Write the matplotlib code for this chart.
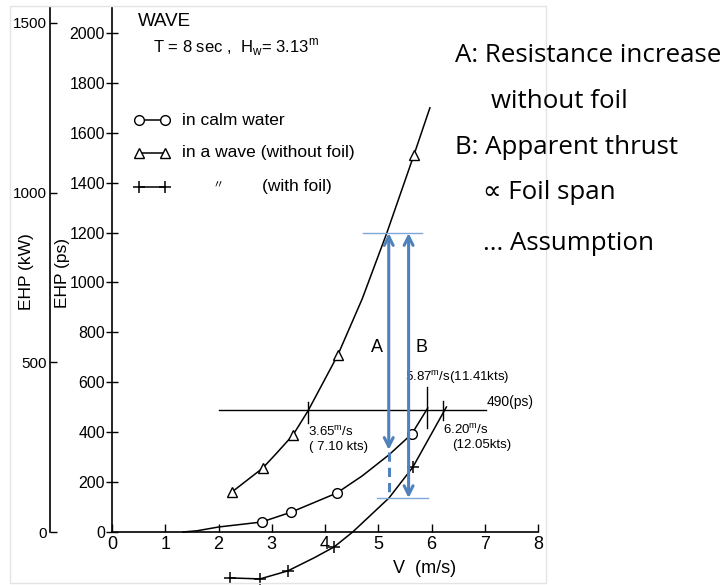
import matplotlib
matplotlib.use("Agg")
import matplotlib.pyplot as plt
from matplotlib.patches import Rectangle

plt.rcParams['font.family'] = ['Liberation Sans', 'DejaVu Sans']
plt.rcParams['mathtext.fontset'] = 'custom'
plt.rcParams['mathtext.rm'] = 'Liberation Sans'

# values: speed V (m/s) vs EHP (ps)
v_calm = [1.33, 1.6, 2.0, 2.81, 3.37, 4.22, 4.7, 5.2, 5.63, 5.93]
ehp_calm = [0, 5, 20, 40, 80, 156, 225, 309, 393, 497]
calm_marks = [3, 4, 5, 8]

v_wave = [2.25, 2.83, 3.1, 3.40, 3.68, 4.24, 4.7, 5.16, 5.67, 5.97]
ehp_wave = [160, 256, 318, 389, 485, 709, 935, 1198, 1511, 1700]
wave_marks = [0, 1, 3, 5, 8]

v_foil = [2.21, 2.78, 3.30, 3.8, 4.17, 4.52, 5.2, 5.65, 6.28]
ehp_foil = [-184, -188, -156, -103, -60, 0, 136, 260, 501]
foil_marks = [0, 1, 2, 4, 7]

ps_ticks = [0, 200, 400, 600, 800, 1000, 1200, 1400, 1600, 1800, 2000]
kw_ticks = [0, 500, 1000, 1500]
v_ticks = [0, 1, 2, 3, 4, 5, 6, 7, 8]

ehp_limit = 490          # horizontal line (ps)
v_wave_cross = 3.68      # 3.65 m/s
v_calm_cross = 5.91      # 5.87 m/s
v_foil_cross = 6.21      # 6.20 m/s

v_A, v_B = 5.197, 5.57
ehp_top, ehp_calm_A, ehp_bottom = 1198, 329, 136

PS_PER_KW = 1.36
blue = '#4F81BD'

W, H = 726, 585
fig = plt.figure(figsize=(W / 100, H / 100), dpi=100)

# faint frame of the scanned image
fig.patches.append(Rectangle((10 / W, 2 / H), 536 / W, 577 / H, transform=fig.transFigure,
                             fill=False, edgecolor='#e4e4e4', lw=1))

rect = [112 / W, 53 / H, 426 / W, 525 / H]
ax = fig.add_axes(rect)
ax.patch.set_alpha(0)
ax.set_xlim(0, 8)
ax.set_ylim(0, 2104)
for s in ['top', 'right']:
    ax.spines[s].set_visible(False)
for s in ['left', 'bottom']:
    ax.spines[s].set_linewidth(1.2)
ax.set_xticks(v_ticks)
ax.set_yticks(ps_ticks)
ax.tick_params(axis='y', direction='inout', length=8, width=1, pad=1, labelsize=11.5)
ax.tick_params(axis='x', direction='in', length=6, width=1, pad=3, labelsize=13)

# second (kW) axis further left
ax2 = fig.add_axes(rect)
ax2.patch.set_alpha(0)
ax2.set_ylim(0, 2104 / PS_PER_KW)
ax2.set_xticks([])
for s in ['top', 'right', 'bottom']:
    ax2.spines[s].set_visible(False)
ax2.spines['left'].set_position(('axes', (50 - 112) / 426))
ax2.spines['left'].set_linewidth(1.2)
ax2.set_yticks(kw_ticks)
ax2.tick_params(axis='y', direction='in', length=5, width=1, pad=2, labelsize=11)

fig.text(27 / W, 1 - 272 / H, 'EHP (kW)', rotation=90, ha='center', va='center', fontsize=12.5)
fig.text(63 / W, 1 - 273 / H, 'EHP (ps)', rotation=90, ha='center', va='center', fontsize=12.5)
ax.text(5.87, -145, 'V  (m/s)', ha='center', va='center', fontsize=13)

# curves
ax.plot(v_calm, ehp_calm, color='black', lw=1.1, clip_on=False)
ax.plot([v_calm[i] for i in calm_marks], [ehp_calm[i] for i in calm_marks], 'o', ms=7,
        mfc='white', mec='black', mew=1, clip_on=False)
ax.plot(v_wave, ehp_wave, color='black', lw=1.1, clip_on=False)
ax.plot([v_wave[i] for i in wave_marks], [ehp_wave[i] for i in wave_marks], '^', ms=7,
        mfc='white', mec='black', mew=1, clip_on=False)
ax.plot(v_foil, ehp_foil, color='black', lw=1.1, clip_on=False)
ax.plot([v_foil[i] for i in foil_marks], [ehp_foil[i] for i in foil_marks], '+', ms=8,
        color='black', mew=1.1, clip_on=False)

# 490 ps line and crossing marks
ax.plot([2.0, 7.03], [ehp_limit, ehp_limit], color='black', lw=1)
ax.text(7.03, ehp_limit + 2, '490(ps)', ha='left', va='bottom', fontsize=10)
ax.plot([v_wave_cross] * 2, [437, 521], color='black', lw=1)
ax.plot([v_calm_cross] * 2, [417, 581], color='black', lw=1)
ax.plot([v_foil_cross] * 2, [449, 525], color='black', lw=1)
ax.text(3.68, 400, r'3.65$^{\mathrm{m}}$/s', fontsize=9.5, va='center')
ax.text(3.70, 340, '( 7.10 kts)', fontsize=9.5, va='center')
ax.text(5.50, 620, r'5.87$^{\mathrm{m}}$/s(11.41kts)', fontsize=9.5, va='center')
ax.text(6.21, 408, r'6.20$^{\mathrm{m}}$/s', fontsize=9.5, va='center')
ax.text(6.38, 348, '(12.05kts)', fontsize=9.5, va='center')

# legend block
ax.text(0.488, 2044, 'WAVE', fontsize=13.5, va='center')
ax.text(0.77, 1944, r'T = 8 sec ,  H$_{\mathrm{w}}$= 3.13$^{\mathrm{m}}$', fontsize=12, va='center')
leg_x = [0.507, 0.994]
ax.plot(leg_x, [1651, 1651], color='black', lw=1.1, marker='o', ms=7, mfc='white', mec='black')
ax.plot(leg_x, [1519, 1519], color='black', lw=1.1, marker='^', ms=7, mfc='white', mec='black')
ax.plot(leg_x, [1383, 1383], color='black', lw=1.1, marker='+', ms=8, mew=1.1)
ax.text(1.313, 1651, 'in calm water', fontsize=12.5, va='center')
ax.text(1.313, 1519, 'in a wave (without foil)', fontsize=12.5, va='center')
ax.text(1.895, 1390, '\u3003', fontsize=8, va='center', family=['Noto Sans CJK JP', 'DejaVu Sans'])
ax.text(2.814, 1383, '(with foil)', fontsize=12.5, va='center')

# blue annotation arrows
ax.plot([4.71, 5.82], [ehp_top, ehp_top], color='#7FA7D9', lw=1)
ax.plot([4.97, 5.93], [ehp_bottom, ehp_bottom], color='#7FA7D9', lw=1)
arrow = dict(arrowstyle='<->', color=blue, lw=2.2, mutation_scale=16, shrinkA=0, shrinkB=0)
ax.annotate('', xy=(v_A, ehp_top), xytext=(v_A, ehp_calm_A), arrowprops=arrow)
ax.plot([v_A, v_A], [ehp_calm_A - 10, ehp_bottom], color=blue, lw=2.2, ls=(0, (3, 2)))
ax.annotate('', xy=(v_B, ehp_top), xytext=(v_B, ehp_bottom), arrowprops=arrow)
ax.text(4.97, 740, 'A', fontsize=13, ha='center', va='center')
ax.text(5.82, 740, 'B', fontsize=13, ha='center', va='center')

# explanatory text on the right
note_font = ['Open Sans', 'DejaVu Sans']
fig.text(455 / W, 1 - 56 / H, 'A: Resistance increase', fontsize=18.6, va='center', family=note_font)
fig.text(491 / W, 1 - 101 / H, 'without foil', fontsize=18.6, va='center', family=note_font)
fig.text(455 / W, 1 - 147 / H, 'B: Apparent thrust', fontsize=18.6, va='center', family=note_font)
fig.text(483 / W, 1 - 193 / H, '\u221d Foil span', fontsize=18.6, va='center', family=note_font)
fig.text(483 / W, 1 - 243 / H, '... Assumption', fontsize=18.6, va='center', family=note_font)

fig.savefig('out.png', dpi=100)
